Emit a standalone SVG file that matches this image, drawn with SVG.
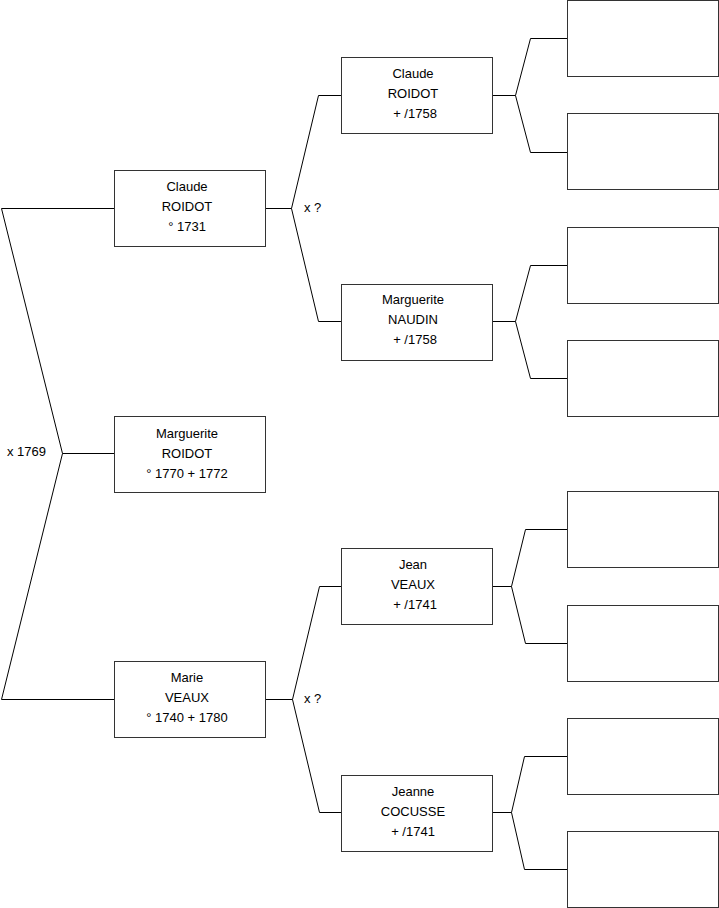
<svg xmlns="http://www.w3.org/2000/svg" width="719" height="908" viewBox="0 0 719 908">
<style>
.box{fill:#fff;stroke:#333;stroke-width:1}
.ln{fill:none;stroke:#000;stroke-width:1}
text{font-family:"Liberation Sans",Arial,sans-serif;font-size:13px;fill:#000}
.c{text-anchor:middle}
</style>
<rect width="719" height="908" fill="#fff"/>
<g id="connectors">
<polyline class="ln" points="114.5,208.5 1.5,208.5 62.5,453.5 1.5,699.5 114.5,699.5"/>
<line class="ln" x1="62.5" y1="453.5" x2="114.5" y2="453.5"/>
<polyline class="ln" points="341.5,95.5 318.5,95.5 291.5,208.5 318.5,321.5 341.5,321.5"/>
<line class="ln" x1="265.5" y1="208.5" x2="291.5" y2="208.5"/>
<polyline class="ln" points="341.5,586.5 319.5,586.5 292.5,699.5 319.5,812.5 341.5,812.5"/>
<line class="ln" x1="265.5" y1="699.5" x2="292.5" y2="699.5"/>
<polyline class="ln" points="567.5,38.5 530.5,38.5 515.5,95.5 530.5,152.5 567.5,152.5"/>
<line class="ln" x1="492.5" y1="95.5" x2="515.5" y2="95.5"/>
<polyline class="ln" points="567.5,265.5 530.5,265.5 515.5,321.5 530.5,378.5 567.5,378.5"/>
<line class="ln" x1="492.5" y1="321.5" x2="515.5" y2="321.5"/>
<polyline class="ln" points="567.5,529.5 525.5,529.5 511.5,586.5 525.5,643.5 567.5,643.5"/>
<line class="ln" x1="492.5" y1="586.5" x2="511.5" y2="586.5"/>
<polyline class="ln" points="567.5,756.5 524.5,756.5 511.5,812.5 524.5,869.5 567.5,869.5"/>
<line class="ln" x1="492.5" y1="812.5" x2="511.5" y2="812.5"/>
<text x="7" y="456">x 1769</text>
<text x="304" y="212">x ?</text>
<text x="304" y="703">x ?</text>
</g>
<g id="n_claude_1731"><rect class="box" x="114.5" y="170.5" width="151" height="76"/>
<text class="c" x="187" y="191">Claude</text><text class="c" x="187" y="211">ROIDOT</text><text class="c" x="187" y="231">° 1731</text></g>
<g id="n_marguerite_roidot"><rect class="box" x="114.5" y="416.5" width="151" height="76"/>
<text class="c" x="187" y="438">Marguerite</text><text class="c" x="187" y="458">ROIDOT</text><text class="c" x="187" y="478">° 1770 + 1772</text></g>
<g id="n_marie_veaux"><rect class="box" x="114.5" y="661.5" width="151" height="76"/>
<text class="c" x="187" y="682">Marie</text><text class="c" x="187" y="702">VEAUX</text><text class="c" x="187" y="722">° 1740 + 1780</text></g>
<g id="n_claude_1758"><rect class="box" x="341.5" y="57.5" width="151" height="76"/>
<text class="c" x="413" y="78">Claude</text><text class="c" x="413" y="98">ROIDOT</text><text class="c" x="415" y="118">+ /1758</text></g>
<g id="n_marguerite_naudin"><rect class="box" x="341.5" y="284.5" width="151" height="76"/>
<text class="c" x="413" y="304">Marguerite</text><text class="c" x="413" y="324">NAUDIN</text><text class="c" x="415" y="344">+ /1758</text></g>
<g id="n_jean_veaux"><rect class="box" x="341.5" y="548.5" width="151" height="76"/>
<text class="c" x="413" y="569">Jean</text><text class="c" x="413" y="589">VEAUX</text><text class="c" x="415" y="609">+ /1741</text></g>
<g id="n_jeanne_cocusse"><rect class="box" x="341.5" y="775.5" width="151" height="76"/>
<text class="c" x="413" y="796">Jeanne</text><text class="c" x="413" y="816">COCUSSE</text><text class="c" x="413" y="836">+ /1741</text></g>
<g id="e1"><rect class="box" x="567.5" y="0.5" width="151" height="76"/></g>
<g id="e2"><rect class="box" x="567.5" y="113.5" width="151" height="76"/></g>
<g id="e3"><rect class="box" x="567.5" y="227.5" width="151" height="76"/></g>
<g id="e4"><rect class="box" x="567.5" y="340.5" width="151" height="76"/></g>
<g id="e5"><rect class="box" x="567.5" y="491.5" width="151" height="76"/></g>
<g id="e6"><rect class="box" x="567.5" y="605.5" width="151" height="76"/></g>
<g id="e7"><rect class="box" x="567.5" y="718.5" width="151" height="76"/></g>
<g id="e8"><rect class="box" x="567.5" y="831.5" width="151" height="76"/></g>
</svg>
